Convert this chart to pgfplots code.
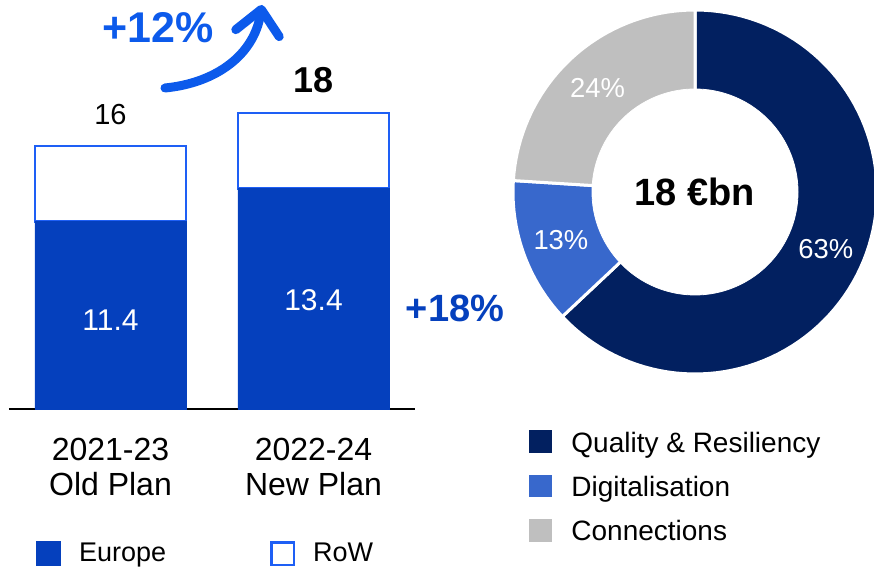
\documentclass[border=0pt]{standalone}
\usepackage{fontspec}
\setmainfont{Liberation Sans}
\usepackage{pgfplots}
\pgfplotsset{compat=1.18}
\usetikzlibrary{arrows.meta}
\definecolor{europe}{RGB}{5,64,189}
\definecolor{rowblue}{RGB}{30,95,245}
\definecolor{arrowblue}{RGB}{12,90,235}
\definecolor{navy}{RGB}{2,32,96}
\definecolor{digi}{RGB}{56,104,204}
\definecolor{conn}{RGB}{191,191,191}
\begin{document}
\begin{tikzpicture}
\useasboundingbox (0,0) rectangle (437pt,283.5pt);
% ---------------- stacked bars ----------------
\begin{axis}[
  at={(4.5pt,79pt)}, anchor=south west,
  scale only axis, width=203pt, height=164.5pt,
  xmin=-0.5, xmax=1.5, ymin=0, ymax=20,
  axis x line=bottom, hide y axis,
  x axis line style={-, black, line width=1pt},
  xtick={0,1}, xticklabels={{2021-23\\Old Plan},{2022-24\\New Plan}},
  xtick style={draw=none}, major tick length=0pt,
  xticklabel style={align=center, font=\fontsize{16}{17.5}\selectfont, yshift=-11pt},
  ybar stacked, bar width=0.744,
  clip=false,
  legend columns=2,
  legend cell align=left,
  legend style={draw=none, fill=none, at={(0.0665,-0.44)}, anchor=west, inner sep=0pt,
    font=\fontsize{13.5}{16}\selectfont,
    nodes={inner sep=0pt},
    /tikz/every odd column/.append style={column sep=9pt},
    /tikz/every even column/.append style={column sep=52pt}},
  legend image code/.code={\draw[#1, line width=1.2pt] (0.6pt,-5.6pt) rectangle (11.8pt,5.6pt);},
]
\addplot[fill=europe, draw=europe] coordinates {(0,11.4) (1,13.4)};
\addlegendentry{Europe}
\addplot[fill=white, draw=rowblue, line width=1.2pt] coordinates {(0,4.6) (1,4.6)};
\addlegendentry{RoW}
\coordinate (lA) at (axis cs:0,5.4);
\coordinate (lB) at (axis cs:1,6.6);
\coordinate (tA) at (axis cs:0,17.9);
\coordinate (tB) at (axis cs:1,20.0);
\end{axis}
\node[white, font=\fontsize{15}{18}\selectfont] at (lA) {11.4};
\node[white, font=\fontsize{15}{18}\selectfont] at (lB) {13.4};
\node[black, font=\fontsize{14.5}{17}\selectfont] at (tA) {16};
\node[black, font=\bfseries\fontsize{18}{21}\selectfont] at (tB) {18};
\node[arrowblue, font=\bfseries\fontsize{21.5}{24}\selectfont] at (79pt,269.5pt) {+12\%};
\draw[line width=4.5pt, arrowblue, line cap=round,
  -{Straight Barb[length=12pt, width=22pt, round]}]
  (82.5pt,239.5pt) .. controls (108pt,242pt) and (127pt,256pt) .. (131pt,281pt);
\node[europe, font=\bfseries\fontsize{19}{22}\selectfont] at (227.5pt,129.5pt) {+18\%};
% ---------------- donut ----------------
\pgfmathsetmacro{\qa}{63}
\pgfmathsetmacro{\qb}{13}
\pgfmathsetmacro{\qc}{24}
\pgfmathsetmacro{\aA}{90}
\pgfmathsetmacro{\aB}{\aA-3.6*\qa}
\pgfmathsetmacro{\aC}{\aB-3.6*\qb}
\pgfmathsetmacro{\aD}{\aC-3.6*\qc}
\pgfmathsetmacro{\mA}{(\aA+\aB)/2}
\pgfmathsetmacro{\mB}{(\aB+\aC)/2}
\pgfmathsetmacro{\mC}{(\aC+\aD)/2}
\begin{axis}[
  at={(347.5pt,187.5pt)}, anchor=center,
  hide axis, x=91pt, y=91pt,
  xmin=-1, xmax=1, ymin=-1, ymax=1, clip=false,
  legend cell align=left,
  legend style={draw=none, fill=none, at={(0.044,-0.148)}, anchor=north west, inner sep=0pt,
    font=\fontsize{14}{17}\selectfont, row sep=8.8pt,
    nodes={inner sep=0pt},
    /tikz/every odd column/.append style={column sep=9.5pt}},
  legend image code/.code={\fill[#1, draw=none] (0pt,-5.6pt) rectangle (11.5pt,5.6pt);},
]
\addplot[fill=navy, draw=white, line width=1.5pt, domain=\aB:\aA, samples=90] ({cos(x)},{sin(x)}) -- (axis cs:0,0) -- cycle;
\addlegendentry{Quality \& Resiliency\strut}
\addplot[fill=digi, draw=white, line width=1.5pt, domain=\aC:\aB, samples=30] ({cos(x)},{sin(x)}) -- (axis cs:0,0) -- cycle;
\addlegendentry{Digitalisation\strut}
\addplot[fill=conn, draw=white, line width=1.5pt, domain=\aD:\aC, samples=40] ({cos(x)},{sin(x)}) -- (axis cs:0,0) -- cycle;
\addlegendentry{Connections\strut}
\addplot[forget plot, fill=white, draw=white, domain=0:360, samples=120] ({0.566*cos(x)},{0.566*sin(x)}) -- cycle;
\coordinate (pA) at (axis cs:{0.783*cos(\mA)},{0.783*sin(\mA)});
\coordinate (pB) at (axis cs:{0.783*cos(\mB)},{0.783*sin(\mB)});
\coordinate (pC) at (axis cs:{0.783*cos(\mC)},{0.783*sin(\mC)});
\coordinate (pO) at (axis cs:0,0);
\end{axis}
\node[white, font=\fontsize{13.7}{16}\selectfont] at (pA) {63\%};
\node[white, font=\fontsize{13.7}{16}\selectfont] at (pB) {13\%};
\node[white, font=\fontsize{13.7}{16}\selectfont] at (pC) {24\%};
\node[black, font=\bfseries\fontsize{19}{22}\selectfont] at (pO) {18 €bn};
\end{tikzpicture}
\end{document}
